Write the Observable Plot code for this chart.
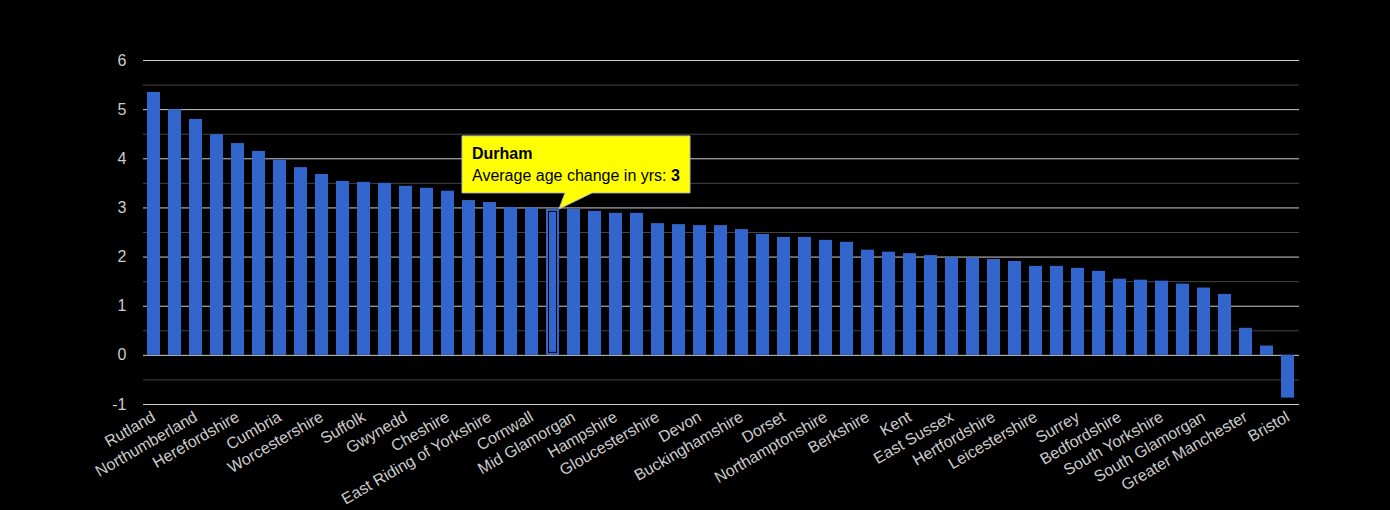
<!DOCTYPE html>
<html><head><meta charset="utf-8">
<script src="https://cdn.jsdelivr.net/npm/d3@7"></script>
<script src="https://cdn.jsdelivr.net/npm/@observablehq/plot@0.6"></script>
<style>html,body{margin:0;padding:0;background:#000;overflow:hidden;}</style>
</head><body><div id="chart"></div>
<script>
const counties = [
  "Rutland","Isle of Wight","Northumberland","Shropshire","Herefordshire","Lincolnshire",
  "Cumbria","Norfolk","Worcestershire","Somerset","Suffolk","Powys","Gwynedd","North Yorkshire",
  "Cheshire","Dyfed","East Riding of Yorkshire","Clwyd","Cornwall","Durham","Mid Glamorgan",
  "Wiltshire","Hampshire","Gwent","Gloucestershire","Staffordshire","Devon","Derbyshire",
  "Buckinghamshire","Essex","Dorset","West Sussex","Northamptonshire","Oxfordshire","Berkshire",
  "Cambridgeshire","Kent","Warwickshire","East Sussex","Nottinghamshire","Hertfordshire",
  "Lancashire","Leicestershire","Merseyside","Surrey","Tyne and Wear","Bedfordshire",
  "West Glamorgan","South Yorkshire","West Yorkshire","South Glamorgan","West Midlands",
  "Greater Manchester","Greater London","Bristol"
];
const values = [
  5.35,5.00,4.80,4.49,4.31,4.15,3.97,3.82,3.68,3.54,3.52,3.50,3.44,3.40,3.34,3.15,3.11,3.01,
  3.00,2.97,2.97,2.93,2.89,2.89,2.68,2.66,2.64,2.64,2.56,2.46,2.40,2.40,2.34,2.30,2.14,2.10,
  2.07,2.03,1.99,1.98,1.95,1.91,1.81,1.81,1.77,1.71,1.55,1.53,1.51,1.45,1.37,1.24,0.55,0.19,-0.87
];
const labelledCounties = counties.filter((d, i) => i % 2 === 0);
const yTicks = [-1, 0, 1, 2, 3, 4, 5, 6];
const yMinorTicks = [-0.5, 0.5, 1.5, 2.5, 3.5, 4.5, 5.5];
const highlight = "Durham";
const highlightShown = "3";
const tipLabel = "Average age change in yrs: ";

const data = counties.map((c, i) => ({county: c, value: values[i]}));
const font = "Arial, 'Liberation Sans', sans-serif";

const plot = Plot.plot({
  width: 1390, height: 510,
  marginLeft: 143, marginRight: 91, marginTop: 60, marginBottom: 106,
  style: {background: "#000", color: "#ccc", fontFamily: font, fontSize: "16px", overflow: "visible"},
  x: {domain: counties, paddingInner: 0.37, paddingOuter: 0.185, axis: null},
  y: {domain: [-1, 6], axis: null},
  marks: [
    Plot.ruleY(yMinorTicks, {stroke: "#444", strokeWidth: 1}),
    Plot.ruleY(yTicks, {stroke: "#ccc", strokeWidth: 1}),
    Plot.barY(data, {x: "county", y: "value", fill: "#3366cc"}),
    Plot.barY(data.filter(d => d.county === highlight), {x: "county", y: "value", fill: "none", stroke: "#000", strokeWidth: 1, inset: 2.5}),
    Plot.axisY(yTicks, {tickSize: 0, tickPadding: 17, label: null, fill: "#ccc", fontSize: 16, tickFormat: d => String(d)}),
    Plot.axisX(labelledCounties, {tickSize: 0, tickRotate: -30, tickPadding: 11, label: null, fill: "#ccc", fontSize: 16})
  ]
});
document.getElementById("chart").appendChild(plot);

// tooltip anchored to the highlighted bar through the plot's scales
const xs = plot.scale("x"), ys = plot.scale("y");
const hv = values[counties.indexOf(highlight)];
const tx = xs.apply(highlight) + xs.bandwidth, ty = ys.apply(hv);
const L = tx - 97, R = tx + 131, T = ty - 73, B = ty - 16;
const svg = d3.select(plot);
const g = svg.append("g").attr("text-anchor", "start");
g.append("path")
  .attr("d", `M${L},${T}H${R}V${B}H${tx + 33}L${tx},${ty}L${tx + 6},${B}H${L}Z`)
  .attr("fill", "#ffff00").attr("stroke", "#bbb").attr("stroke-width", 1);
g.append("text").attr("x", L + 10).attr("y", T + 23).attr("text-anchor", "start")
  .attr("font-family", font).attr("font-size", 16).attr("font-weight", "bold").attr("fill", "#000")
  .text(highlight);
const t2 = g.append("text").attr("x", L + 10).attr("y", T + 45).attr("text-anchor", "start")
  .attr("font-family", font).attr("font-size", 16).attr("fill", "#000");
t2.append("tspan").text(tipLabel);
t2.append("tspan").attr("font-weight", "bold").text(highlightShown);
</script>
</body></html>
